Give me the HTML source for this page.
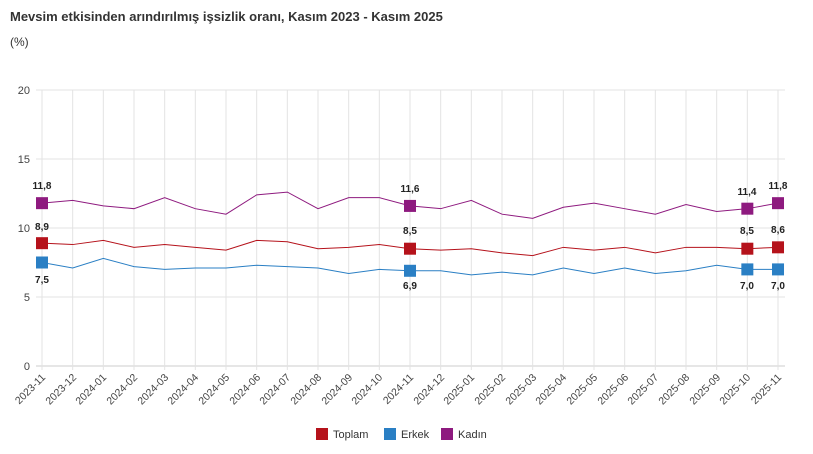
<!DOCTYPE html>
<html><head><meta charset="utf-8"><style>
body{margin:0;background:#fff;font-family:"Liberation Sans",sans-serif;}
</style></head><body>
<svg width="813" height="449" xmlns="http://www.w3.org/2000/svg" font-family="Liberation Sans, sans-serif">
<text x="10" y="21" font-size="13" font-weight="bold" fill="#333">Mevsim etkisinden arındırılmış işsizlik oranı, Kasım 2023 - Kasım 2025</text>
<text x="10" y="46" font-size="12" fill="#333">(%)</text>
<g id="grid" stroke="#e3e3e3" stroke-width="1"></g>
<g font-size="11" fill="#444" text-anchor="end">
<text x="30" y="94">20</text><text x="30" y="163">15</text><text x="30" y="232">10</text><text x="30" y="301">5</text><text x="30" y="370">0</text>
</g>
<g id="xl" font-size="10.5" fill="#444" text-anchor="end">
<text transform="translate(46,378) rotate(-45)">2023-11</text>
<text transform="translate(77,378) rotate(-45)">2023-12</text>
<text transform="translate(107,378) rotate(-45)">2024-01</text>
<text transform="translate(138,378) rotate(-45)">2024-02</text>
<text transform="translate(169,378) rotate(-45)">2024-03</text>
<text transform="translate(199,378) rotate(-45)">2024-04</text>
<text transform="translate(230,378) rotate(-45)">2024-05</text>
<text transform="translate(261,378) rotate(-45)">2024-06</text>
<text transform="translate(291,378) rotate(-45)">2024-07</text>
<text transform="translate(322,378) rotate(-45)">2024-08</text>
<text transform="translate(353,378) rotate(-45)">2024-09</text>
<text transform="translate(383,378) rotate(-45)">2024-10</text>
<text transform="translate(414,378) rotate(-45)">2024-11</text>
<text transform="translate(445,378) rotate(-45)">2024-12</text>
<text transform="translate(475,378) rotate(-45)">2025-01</text>
<text transform="translate(506,378) rotate(-45)">2025-02</text>
<text transform="translate(537,378) rotate(-45)">2025-03</text>
<text transform="translate(567,378) rotate(-45)">2025-04</text>
<text transform="translate(598,378) rotate(-45)">2025-05</text>
<text transform="translate(629,378) rotate(-45)">2025-06</text>
<text transform="translate(659,378) rotate(-45)">2025-07</text>
<text transform="translate(690,378) rotate(-45)">2025-08</text>
<text transform="translate(721,378) rotate(-45)">2025-09</text>
<text transform="translate(751,378) rotate(-45)">2025-10</text>
<text transform="translate(782,378) rotate(-45)">2025-11</text>
</g>
<g id="series"></g>
<g font-size="10" font-weight="bold" fill="#222" text-anchor="middle">
<text x="42" y="189">11,8</text><text x="42" y="230">8,9</text><text x="42" y="283">7,5</text>
<text x="410" y="192">11,6</text><text x="410" y="234">8,5</text><text x="410" y="289">6,9</text>
<text x="747" y="195">11,4</text><text x="747" y="234">8,5</text><text x="747" y="289">7,0</text>
<text x="778" y="189">11,8</text><text x="778" y="233">8,6</text><text x="778" y="289">7,0</text>
</g>
<g font-size="11" fill="#333">
<rect x="316" y="428" width="12" height="12" fill="#b5121b"/><text x="333" y="438">Toplam</text>
<rect x="384" y="428" width="12" height="12" fill="#2a7fc4"/><text x="401" y="438">Erkek</text>
<rect x="441" y="428" width="12" height="12" fill="#8e1a7f"/><text x="458" y="438">Kadın</text>
</g>
</svg>
<script>
var ns="http://www.w3.org/2000/svg";
function X(i){return 42+i*30.667}function Y(v){return 366-13.8*v}
var g=document.getElementById("grid");
function ln(p,x1,y1,x2,y2,c){var l=document.createElementNS(ns,"line");l.setAttribute("x1",x1);l.setAttribute("y1",y1);l.setAttribute("x2",x2);l.setAttribute("y2",y2);if(c)l.setAttribute("stroke",c);p.appendChild(l);}
for(var v=0;v<=20;v+=5)ln(g,36,Y(v),785,Y(v),v==0?"#ccc":null);
for(var i=0;i<25;i++)ln(g,X(i),90,X(i),370);
var D=[["#8e1a7f",[11.8,12.0,11.6,11.4,12.2,11.4,11.0,12.4,12.6,11.4,12.2,12.2,11.6,11.4,12.0,11.0,10.7,11.5,11.8,11.4,11.0,11.7,11.2,11.4,11.8]],
["#b5121b",[8.9,8.8,9.1,8.6,8.8,8.6,8.4,9.1,9.0,8.5,8.6,8.8,8.5,8.4,8.5,8.2,8.0,8.6,8.4,8.6,8.2,8.6,8.6,8.5,8.6]],
["#2a7fc4",[7.5,7.1,7.8,7.2,7.0,7.1,7.1,7.3,7.2,7.1,6.7,7.0,6.9,6.9,6.6,6.8,6.6,7.1,6.7,7.1,6.7,6.9,7.3,7.0,7.0]]];
var s=document.getElementById("series");
D.forEach(function(d){var p=document.createElementNS(ns,"polyline");p.setAttribute("points",d[1].map(function(v,i){return X(i)+","+Y(v)}).join(" "));p.setAttribute("fill","none");p.setAttribute("stroke",d[0]);p.setAttribute("stroke-width","1");s.appendChild(p);
[0,12,23,24].forEach(function(i){var r=document.createElementNS(ns,"rect");r.setAttribute("x",X(i)-6);r.setAttribute("y",Y(d[1][i])-6);r.setAttribute("width",12);r.setAttribute("height",12);r.setAttribute("fill",d[0]);s.appendChild(r);});});
</script>
</body></html>
